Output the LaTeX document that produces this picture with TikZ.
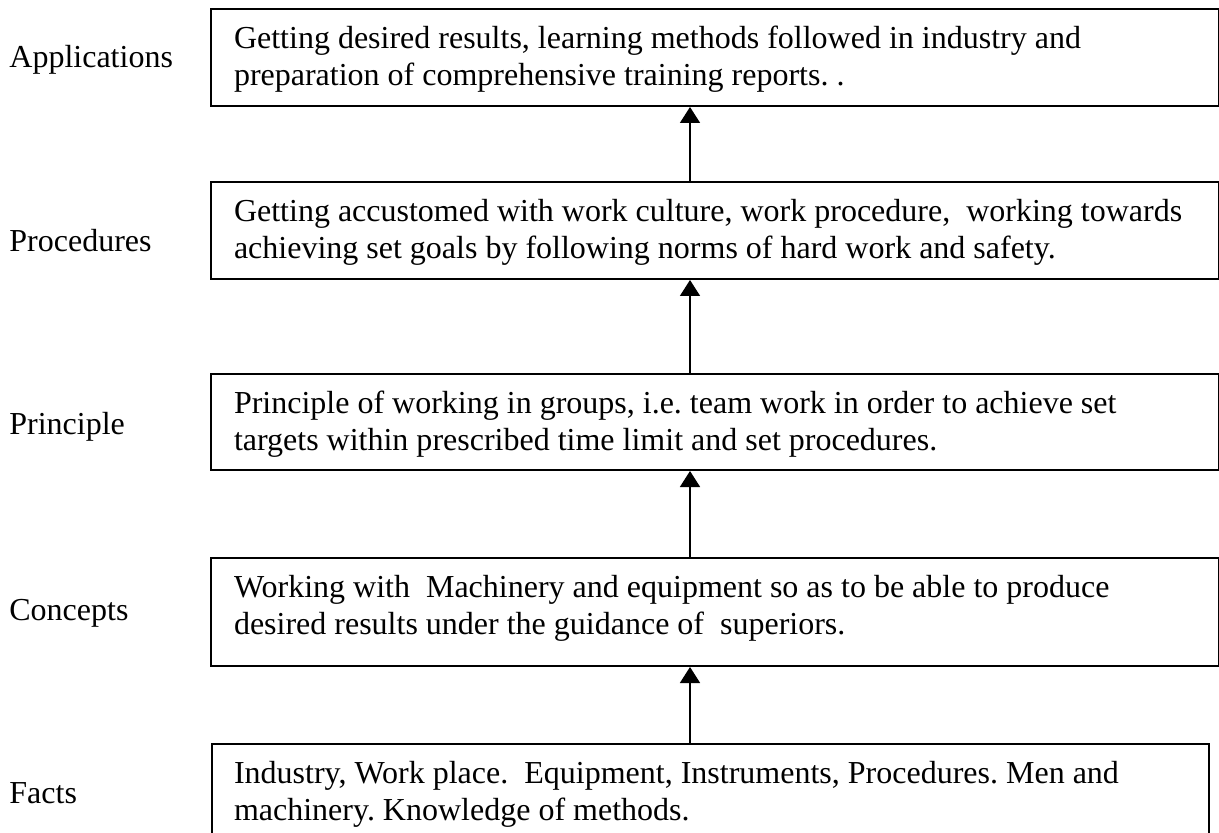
\documentclass[tikz,border=0pt]{standalone}
\usepackage{fontspec}
\setmainfont{Liberation Serif}
\usetikzlibrary{arrows.meta}
\frenchspacing
\newcommand{\bxt}[3]{\parbox[c][#1][t]{#2}{\raggedright\strut #3}}
\begin{document}
\begin{tikzpicture}[x=0.5pt,y=-0.5pt,
  font=\fontsize{16pt}{18.5pt}\selectfont,
  stagebox/.style={draw, line width=1pt, inner xsep=11.5pt, inner ysep=7pt, anchor=north west},
  lab/.style={anchor=base west, inner sep=0pt},
  uparrow/.style={-{Triangle[width=10pt,length=8pt]}, line width=0.8pt}]
\useasboundingbox (0,0) rectangle (1219,833);
\clip (0,0) rectangle (1219,833);
\coordinate (ax) at (690,0);

\node[stagebox] (b1) at (210,8) {\bxt{34.5pt}{481pt}{Getting desired results, learning methods followed in industry and\\preparation of comprehensive training reports. .}};
\node[stagebox] (b2) at (210,181) {\bxt{34.5pt}{481pt}{Getting accustomed with work culture, work procedure,\ \ working towards\\achieving set goals by following norms of hard work and safety.}};
\node[stagebox] (b3) at (210,373) {\bxt{34pt}{481pt}{Principle of working in groups, i.e. team work in order to achieve set\\targets within prescribed time limit and set procedures.}};
\node[stagebox] (b4) at (210,557) {\bxt{40pt}{481pt}{Working with\ \ Machinery and equipment so as to be able to produce\\desired results under the guidance of\ \ superiors.}};
\node[stagebox, inner xsep=11pt] (b5) at (211,743) {\bxt{41pt}{476.5pt}{Industry, Work place.\ \ Equipment, Instruments, Procedures. Men and\\machinery. Knowledge of methods.}};

\node[lab] (l1) at (9,68) {Applications};
\node[lab] (l2) at (9,252) {Procedures};
\node[lab] (l3) at (9,435) {Principle};
\node[lab] (l4) at (9,620) {Concepts};
\node[lab] (l5) at (9,803) {Facts};

\draw[uparrow] (b2.north -| ax) -- (b1.south -| ax);
\draw[uparrow] (b3.north -| ax) -- (b2.south -| ax);
\draw[uparrow] (b4.north -| ax) -- (b3.south -| ax);
\draw[uparrow] (b5.north -| ax) -- (b4.south -| ax);
\end{tikzpicture}
\end{document}
